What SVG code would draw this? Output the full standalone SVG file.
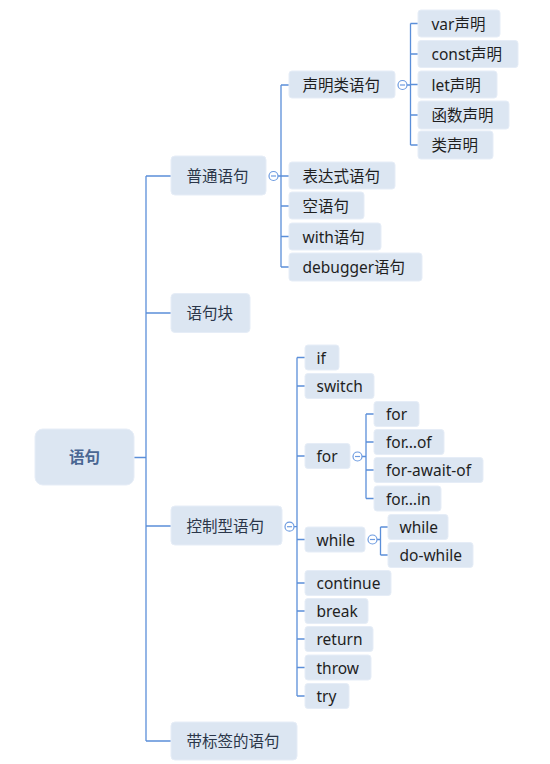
<svg xmlns="http://www.w3.org/2000/svg" width="550" height="764" viewBox="0 0 550 764">
<style>
  .bg{fill:#ffffff}
  .box{fill:#dce6f2;stroke:#e6edf7;stroke-width:1}
  .t{font-family:"Noto Sans","Noto Sans CJK SC",sans-serif;font-size:15.5px;fill:#1f1f1f;dominant-baseline:central}
  .tm{fill:#2b3649}
  .tr{fill:#4a6693;font-weight:bold;text-anchor:middle}
  .ln{fill:none;stroke:#5b8fd9;stroke-width:1.3}
  .col{fill:#ffffff;stroke:#6d9be0;stroke-width:1.2}
  .minus{stroke:#6d9be0;stroke-width:1.2}
</style>
<rect class="bg" x="0" y="0" width="550" height="764"/>
<g id="connectors">
  <path class="ln" d="M134,457.5 H146 M146,176 V741 M146,176 H171 M146,313 H171 M146,526 H171 M146,741 H171"/>
  <path class="ln" d="M278,176 H281 M281,85 V267 M281,85 H289 M281,176 H289 M281,206 H289 M281,236.5 H289 M281,267 H289"/>
  <path class="ln" d="M407,85 H410.5 M410.5,23.5 V145 M410.5,23.5 H418 M410.5,54 H418 M410.5,84.5 H418 M410.5,115 H418 M410.5,145 H418"/>
  <path class="ln" d="M294,526.7 H297 M297,357.5 V696 M297,357.5 H305 M297,386 H305 M297,456 H305 M297,539.5 H305 M297,583 H305 M297,611 H305 M297,639 H305 M297,667.5 H305 M297,696 H305"/>
  <path class="ln" d="M362,456.5 H366 M366,414 V498.5 M366,414 H374 M366,442 H374 M366,470 H374 M366,498.5 H374"/>
  <path class="ln" d="M377,539.5 H380.5 M380.5,527 V555 M380.5,527 H388 M380.5,555 H388"/>
  <g id="collapse">
    <circle class="col" cx="273.5" cy="176" r="4.5"/><path class="minus" d="M271,176 H276"/>
    <circle class="col" cx="402.5" cy="85" r="4.5"/><path class="minus" d="M400,85 H405"/>
    <circle class="col" cx="289.5" cy="526.7" r="4.5"/><path class="minus" d="M287,526.7 H292"/>
    <circle class="col" cx="357.5" cy="456.5" r="4.5"/><path class="minus" d="M355,456.5 H360"/>
    <circle class="col" cx="372.5" cy="539.5" r="4.5"/><path class="minus" d="M370,539.5 H375"/>
  </g>
</g>
<g id="n-root"><rect class="box" x="35" y="429" width="99" height="56" rx="8"/><text class="t tr" x="84.5" y="457">语句</text></g>

<g id="n-putong"><rect class="box" x="171" y="156" width="95" height="39" rx="4"/><text class="t tm" x="186.5" y="175.5">普通语句</text></g>
<g id="n-kuai"><rect class="box" x="171" y="293.5" width="79" height="39" rx="4"/><text class="t tm" x="186.5" y="313">语句块</text></g>
<g id="n-kongzhi"><rect class="box" x="171" y="506" width="111" height="39" rx="4"/><text class="t tm" x="186.5" y="525.5">控制型语句</text></g>
<g id="n-biaoqian"><rect class="box" x="171" y="722" width="126" height="38" rx="4"/><text class="t tm" x="186.5" y="741">带标签的语句</text></g>

<g id="n-shengming"><rect class="box" x="289" y="71" width="106" height="27" rx="3"/><text class="t" x="302.5" y="84.5">声明类语句</text></g>
<g id="n-biaodashi"><rect class="box" x="289" y="162" width="106" height="27" rx="3"/><text class="t" x="302.5" y="175.5">表达式语句</text></g>
<g id="n-kong"><rect class="box" x="289" y="192" width="75" height="27" rx="3"/><text class="t" x="302.5" y="205.5">空语句</text></g>
<g id="n-with"><rect class="box" x="289" y="223" width="92" height="27" rx="3"/><text class="t" x="302.5" y="236.5">with语句</text></g>
<g id="n-debugger"><rect class="box" x="289" y="253" width="133" height="28" rx="3"/><text class="t" x="302.5" y="267">debugger语句</text></g>

<g id="n-var"><rect class="box" x="418" y="10" width="82" height="27" rx="3"/><text class="t" x="431.5" y="23.5">var声明</text></g>
<g id="n-const"><rect class="box" x="418" y="40.5" width="100" height="27" rx="3"/><text class="t" x="431.5" y="54">const声明</text></g>
<g id="n-let"><rect class="box" x="418" y="71" width="79" height="27" rx="3"/><text class="t" x="431.5" y="84.5">let声明</text></g>
<g id="n-hanshu"><rect class="box" x="418" y="101" width="91" height="28" rx="3"/><text class="t" x="431.5" y="115">函数声明</text></g>
<g id="n-lei"><rect class="box" x="418" y="131" width="75" height="28" rx="3"/><text class="t" x="431.5" y="145">类声明</text></g>

<g id="n-if"><rect class="box" x="305" y="345" width="34" height="25" rx="3"/><text class="t" x="316.5" y="357.5">if</text></g>
<g id="n-switch"><rect class="box" x="305" y="373.5" width="69" height="25" rx="3"/><text class="t" x="316.5" y="386">switch</text></g>
<g id="n-for"><rect class="box" x="305" y="443.5" width="45" height="25" rx="3"/><text class="t" x="316.5" y="456">for</text></g>
<g id="n-while"><rect class="box" x="305" y="527" width="60" height="25" rx="3"/><text class="t" x="316.5" y="539.5">while</text></g>
<g id="n-continue"><rect class="box" x="305" y="570.5" width="86" height="25" rx="3"/><text class="t" x="316.5" y="583">continue</text></g>
<g id="n-break"><rect class="box" x="305" y="598.5" width="63" height="25" rx="3"/><text class="t" x="316.5" y="611">break</text></g>
<g id="n-return"><rect class="box" x="305" y="626.5" width="68" height="25" rx="3"/><text class="t" x="316.5" y="639">return</text></g>
<g id="n-throw"><rect class="box" x="305" y="655" width="66" height="25" rx="3"/><text class="t" x="316.5" y="667.5">throw</text></g>
<g id="n-try"><rect class="box" x="305" y="683.5" width="44" height="25" rx="3"/><text class="t" x="316.5" y="696">try</text></g>

<g id="n-for1"><rect class="box" x="374" y="401.5" width="45" height="25" rx="3"/><text class="t" x="386" y="414">for</text></g>
<g id="n-forof"><rect class="box" x="374" y="429.5" width="70" height="25" rx="3"/><text class="t" x="386" y="442">for…of</text></g>
<g id="n-forawait"><rect class="box" x="374" y="457.5" width="109" height="25" rx="3"/><text class="t" x="386" y="470">for-await-of</text></g>
<g id="n-forin"><rect class="box" x="374" y="486" width="67" height="25" rx="3"/><text class="t" x="386" y="498.5">for…in</text></g>

<g id="n-while1"><rect class="box" x="388" y="514.5" width="60" height="25" rx="3"/><text class="t" x="399.5" y="527">while</text></g>
<g id="n-dowhile"><rect class="box" x="388" y="542.5" width="85" height="25" rx="3"/><text class="t" x="399.5" y="555">do-while</text></g>
</svg>
